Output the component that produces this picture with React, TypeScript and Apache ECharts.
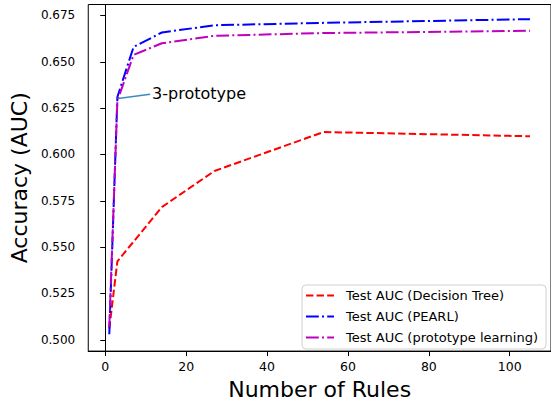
import React, { useEffect, useRef } from "react";
import * as echarts from "echarts";

const xTickValues = [0, 20, 40, 60, 80, 100];
const yTickValues = [0.5, 0.525, 0.55, 0.575, 0.6, 0.625, 0.65, 0.675];

const dtRules = [1, 3, 14, 27, 54, 105];
const dtAuc = [0.506, 0.5423, 0.5716, 0.5911, 0.6121, 0.6098];

const pearlRules = [1, 3, 7, 14, 27, 54, 105];
const pearlAuc = [0.503, 0.631, 0.658, 0.6658, 0.6697, 0.671, 0.673];

const protoRules = [1, 3, 7, 14, 27, 54, 105];
const protoAuc = [0.507, 0.629, 0.6537, 0.66, 0.664, 0.6655, 0.6667];

const seriesNames = [
  "Test AUC (Decision Tree)",
  "Test AUC (PEARL)",
  "Test AUC (prototype learning)",
];

const annotationStart = [3.2, 0.6302];
const annotationEnd = [11.1, 0.6325];
const annotationText = "3-prototype";

const FONT = "DejaVu Sans";

function zip(xs: number[], ys: number[]) {
  return xs.map((x, i) => [x, ys[i]]);
}

export default function App() {
  const ref = useRef<HTMLDivElement>(null);

  useEffect(() => {
    document.body.style.margin = "0";
    const chart = echarts.init(ref.current!, null, { renderer: "svg" });
    const dashDot = [12.8, 3.2, 2, 3.2];
    const dashed = [7.4, 3.2];
    chart.setOption({
      animation: false,
      backgroundColor: "#fff",
      textStyle: { fontFamily: FONT },
      grid: {
        left: 83,
        top: 4.5,
        bottom: 49.3,
        right: -4.4,
        show: true,
        borderColor: "#000",
        borderWidth: 1,
        backgroundColor: "transparent",
      },
      legend: {
        orient: "vertical",
        left: 302,
        top: 285,
        padding: [4, 8, 5, 3],
        itemWidth: 28,
        itemHeight: 14,
        itemGap: 8,
        borderColor: "#d0d0d0",
        borderWidth: 1,
        borderRadius: 4,
        backgroundColor: "rgba(255,255,255,0.85)",
        itemStyle: { opacity: 0 },
        textStyle: {
          fontFamily: FONT,
          fontSize: 13,
          color: "#000",
          padding: [0, 0, 0, 7],
        },
        data: seriesNames,
      },
      xAxis: {
        type: "value",
        min: -4.2,
        max: 110.2,
        name: "Number of Rules",
        nameLocation: "middle",
        nameGap: 25,
        nameTextStyle: { fontFamily: FONT, fontSize: 22, color: "#000" },
        axisLine: { show: true, lineStyle: { color: "#000", width: 1 } },
        axisTick: {
          show: true,
          length: 5,
          lineStyle: { color: "#000", width: 1 },
          customValues: xTickValues,
        },
        axisLabel: {
          fontFamily: FONT,
          fontSize: 12.5,
          color: "#000",
          margin: 9,
          customValues: xTickValues,
        },
        splitLine: { show: false },
      },
      yAxis: {
        type: "value",
        min: 0.4939,
        max: 0.6809,
        name: "Accuracy (AUC)",
        nameLocation: "middle",
        nameGap: 52,
        nameTextStyle: { fontFamily: FONT, fontSize: 22, color: "#000" },
        axisLine: { show: true, lineStyle: { color: "#000", width: 1 } },
        axisTick: {
          show: true,
          length: 5,
          lineStyle: { color: "#000", width: 1 },
          customValues: yTickValues,
        },
        axisLabel: {
          fontFamily: FONT,
          fontSize: 12,
          color: "#000",
          margin: 13,
          customValues: yTickValues,
          formatter: (v: number) => v.toFixed(3),
        },
        splitLine: { show: false },
      },
      series: [
        {
          name: seriesNames[0],
          type: "line",
          data: zip(dtRules, dtAuc),
          symbol: "none",
          color: "#ff0000",
          lineStyle: { color: "#ff0000", width: 2, type: dashed },
        },
        {
          name: seriesNames[1],
          type: "line",
          data: zip(pearlRules, pearlAuc),
          symbol: "none",
          color: "#0000ff",
          lineStyle: { color: "#0000ff", width: 2, type: dashDot },
          markLine: {
            silent: true,
            symbol: ["none", "none"],
            lineStyle: { color: "#3b8bc2", width: 1.5, type: "solid" },
            label: {
              show: true,
              position: "end",
              formatter: annotationText,
              fontFamily: FONT,
              fontSize: 16,
              color: "#000",
              distance: 2,
            },
            emphasis: { disabled: true },
            data: [[{ coord: annotationStart }, { coord: annotationEnd }]],
          },
        },
        {
          name: seriesNames[2],
          type: "line",
          data: zip(protoRules, protoAuc),
          symbol: "none",
          color: "#bf00bf",
          lineStyle: { color: "#bf00bf", width: 2, type: dashDot },
        },
      ],
    });
    return () => chart.dispose();
  }, []);

  return (
    <div
      ref={ref}
      style={{ position: "absolute", left: 0, top: 0, width: 551, height: 405 }}
    />
  );
}
